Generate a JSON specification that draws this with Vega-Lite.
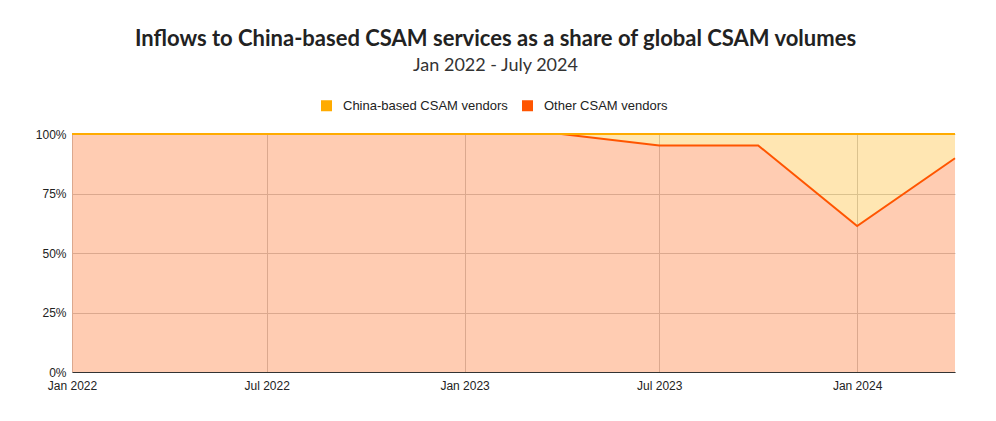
{
  "$schema": "https://vega.github.io/schema/vega-lite/v6.json",
  "width": 883,
  "height": 238,
  "autosize": {"type": "none"},
  "padding": {"left": 72, "top": 134, "right": 41, "bottom": 49},
  "background": "white",
  "title": {
    "text": "Inflows to China-based CSAM services as a share of global CSAM volumes",
    "subtitle": "Jan 2022 - July 2024",
    "font": "Lato",
    "fontSize": 22,
    "fontWeight": "bold",
    "color": "#222222",
    "subtitleFont": "Lato",
    "subtitleFontSize": 18,
    "subtitleColor": "#333333",
    "subtitlePadding": 6,
    "anchor": "middle",
    "offset": 23,
    "dx": -18
  },
  "data": {
    "values": [
      {"date": "2022-01-01T00:00:00", "vendor": "Other CSAM vendors", "share": 100},
      {"date": "2022-04-01T00:00:00", "vendor": "Other CSAM vendors", "share": 100},
      {"date": "2022-07-01T00:00:00", "vendor": "Other CSAM vendors", "share": 100},
      {"date": "2022-10-01T00:00:00", "vendor": "Other CSAM vendors", "share": 100},
      {"date": "2023-01-01T00:00:00", "vendor": "Other CSAM vendors", "share": 100},
      {"date": "2023-04-01T00:00:00", "vendor": "Other CSAM vendors", "share": 100},
      {"date": "2023-07-01T00:00:00", "vendor": "Other CSAM vendors", "share": 95.2},
      {"date": "2023-10-01T00:00:00", "vendor": "Other CSAM vendors", "share": 95.2},
      {"date": "2024-01-01T00:00:00", "vendor": "Other CSAM vendors", "share": 61.3},
      {"date": "2024-04-01T00:00:00", "vendor": "Other CSAM vendors", "share": 89.8},
      {"date": "2022-01-01T00:00:00", "vendor": "China-based CSAM vendors", "share": 0},
      {"date": "2022-04-01T00:00:00", "vendor": "China-based CSAM vendors", "share": 0},
      {"date": "2022-07-01T00:00:00", "vendor": "China-based CSAM vendors", "share": 0},
      {"date": "2022-10-01T00:00:00", "vendor": "China-based CSAM vendors", "share": 0},
      {"date": "2023-01-01T00:00:00", "vendor": "China-based CSAM vendors", "share": 0},
      {"date": "2023-04-01T00:00:00", "vendor": "China-based CSAM vendors", "share": 0},
      {"date": "2023-07-01T00:00:00", "vendor": "China-based CSAM vendors", "share": 4.8},
      {"date": "2023-10-01T00:00:00", "vendor": "China-based CSAM vendors", "share": 4.8},
      {"date": "2024-01-01T00:00:00", "vendor": "China-based CSAM vendors", "share": 38.7},
      {"date": "2024-04-01T00:00:00", "vendor": "China-based CSAM vendors", "share": 10.2}
    ]
  },
  "encoding": {
    "x": {
      "field": "date",
      "type": "temporal",
      "title": null,
      "scale": {"nice": false},
      "axis": {
        "values": ["2022-01-01T00:00:00", "2022-07-01T00:00:00", "2023-01-01T00:00:00", "2023-07-01T00:00:00", "2024-01-01T00:00:00"],
        "format": "%b %Y",
        "labelFont": "Liberation Sans",
        "labelFontSize": 12,
        "labelColor": "#222222",
        "labelPadding": 8,
        "labelFlush": false,
        "ticks": false,
        "domainColor": "#333333",
        "domainWidth": 1,
        "grid": true,
        "gridColor": "#cccccc",
        "gridWidth": 1
      }
    },
    "y": {
      "field": "share",
      "type": "quantitative",
      "stack": "normalize",
      "title": null,
      "scale": {"domain": [0, 1]},
      "axis": {
        "values": [0, 0.25, 0.5, 0.75, 1],
        "format": ".0%",
        "labelFont": "Liberation Sans",
        "labelFontSize": 12,
        "labelColor": "#222222",
        "labelPadding": 6,
        "ticks": false,
        "domain": false,
        "grid": true,
        "gridColor": "#cccccc",
        "gridWidth": 1
      }
    },
    "color": {
      "field": "vendor",
      "type": "nominal",
      "scale": {
        "domain": ["China-based CSAM vendors", "Other CSAM vendors"],
        "range": ["#FFAB00", "#FF5500"]
      },
      "legend": {
        "title": null,
        "orient": "none",
        "direction": "horizontal",
        "legendX": 248,
        "legendY": -35,
        "symbolType": "square",
        "symbolSize": 121,
        "symbolOpacity": 1,
        "symbolStrokeWidth": 0,
        "labelFont": "Liberation Sans",
        "labelFontSize": 13,
        "labelLimit": 400,
        "labelColor": "#222222",
        "labelOffset": 10,
        "columnPadding": 13
      }
    }
  },
  "layer": [
    {"mark": {"type": "area", "opacity": 0.3}},
    {"mark": {"type": "line", "strokeWidth": 2}}
  ],
  "config": {"view": {"stroke": null}}
}
